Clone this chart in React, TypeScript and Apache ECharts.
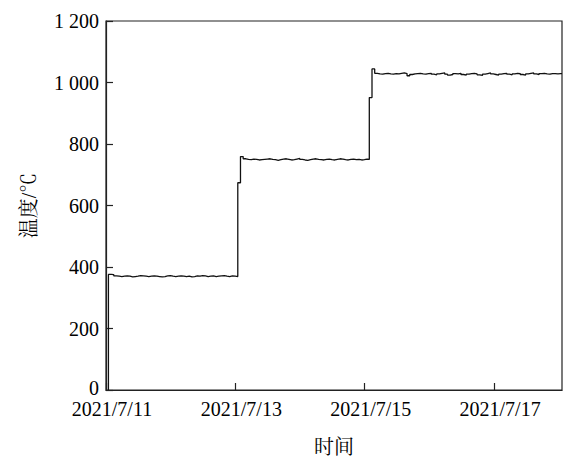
import React, { useEffect, useRef } from "react";
import * as echarts from "echarts";

// x values are hours since 2021/7/11 00:00
const xMin = 0;
const xMax = 169.2;
const xTickHours = [0, 48, 96, 144];
const xTickLabels = ["2021/7/11", "2021/7/13", "2021/7/15", "2021/7/17"];

const seg1Start = 0.9;
const seg1 = [376, 375, 371, 370, 369, 370, 371, 370, 368, 369, 370, 372, 371, 370, 369, 370, 371, 370, 369, 368, 369, 371, 372, 370, 369, 370, 371, 370, 369, 370, 368, 369, 371, 370, 372, 371, 369, 370, 371, 369, 370, 371, 372, 370, 369, 371, 370, 369];

const seg2Start = 48.9;
const seg2 = [674, 759, 752, 750, 749, 751, 750, 748, 749, 750, 751, 752, 750, 749, 747, 749, 751, 752, 750, 748, 749, 751, 753, 750, 748, 747, 749, 751, 752, 750, 749, 748, 750, 751, 749, 748, 750, 752, 751, 749, 748, 750, 751, 749, 750, 748, 749, 751, 750];

const seg3Start = 97.7;
const seg3 = [951, 1044, 1030, 1028, 1027, 1029, 1030, 1028, 1027, 1029, 1028, 1030, 1031, 1029, 1022, 1026, 1028, 1029, 1030, 1028, 1027, 1029, 1030, 1027, 1025, 1028, 1030, 1031, 1027, 1024, 1026, 1029, 1028, 1030, 1026, 1024, 1027, 1029, 1030, 1028, 1025, 1023, 1027, 1029, 1031, 1028, 1026, 1024, 1027, 1029, 1030, 1027, 1025, 1028, 1030, 1029, 1026, 1024, 1028, 1030, 1031, 1028, 1026, 1029, 1030, 1028, 1027, 1029, 1029, 1028, 1029, 1029];

const yTicks = [0, 200, 400, 600, 800, 1000, 1200];

const FONT = "'Liberation Serif', 'Times New Roman', 'Noto Serif CJK SC', 'Noto Sans CJK SC', serif";

function buildData(): number[][] {
  const d: number[][] = [[seg1Start, 0]];
  seg1.forEach((v, i) => d.push([seg1Start + i, v]));
  seg2.forEach((v, i) => d.push([seg2Start + i, v]));
  seg3.forEach((v, i) => d.push([seg3Start + i, v]));
  d.push([xMax, seg3[seg3.length - 1]]);
  return d;
}

export default function App() {
  const ref = useRef<HTMLDivElement>(null);
  useEffect(() => {
    if (!ref.current) return;
    const chart = echarts.init(ref.current, undefined, { renderer: "svg" });
    chart.setOption({
      animation: false,
      backgroundColor: "#fff",
      grid: {
        left: 106,
        right: 2,
        top: 21,
        bottom: 67,
        show: true,
        borderColor: "#222",
        borderWidth: 1.2,
        outerBoundsMode: "none",
        containLabel: false,
      },
      xAxis: {
        type: "value",
        min: xMin,
        max: xMax,
        interval: 48,
        name: "时间",
        nameLocation: "middle",
        nameGap: 47,
        nameTextStyle: { fontFamily: FONT, fontSize: 20, color: "#000" },
        axisLine: { show: true, lineStyle: { color: "#222", width: 1.2 } },
        axisTick: { show: true, inside: true, length: 7, lineStyle: { color: "#222", width: 1.2 } },
        splitLine: { show: false },
        axisLabel: {
          fontFamily: FONT,
          fontSize: 20,
          lineHeight: 18,
          color: "#000",
          margin: 10,
          padding: [0, 0, 0, 12],
          showMaxLabel: false,
          formatter: (v: number) => {
            const idx = xTickHours.indexOf(v);
            return idx >= 0 ? xTickLabels[idx] : "";
          },
        },
      },
      yAxis: {
        type: "value",
        min: 0,
        max: 1200,
        interval: 200,
        name: "温度/℃",
        nameLocation: "middle",
        nameGap: 67,
        nameTextStyle: { fontFamily: FONT, fontSize: 20, color: "#000" },
        axisLine: { show: true, lineStyle: { color: "#222", width: 1.2 } },
        axisTick: { show: true, inside: true, length: 7, lineStyle: { color: "#222", width: 1.2 } },
        splitLine: { show: false },
        axisLabel: {
          fontFamily: FONT,
          fontSize: 20,
          lineHeight: 15,
          color: "#000",
          margin: 7,
          rich: {
            z: { fontFamily: FONT, fontSize: 20, lineHeight: 15, color: "#000", padding: [0, 0, 5, 0] },
          },
          formatter: (v: number) => {
            if (yTicks.indexOf(v) < 0) return "";
            if (v === 0) return "{z|0}";
            const s = String(v);
            return s.length > 3 ? s.slice(0, s.length - 3) + " " + s.slice(-3) : s;
          },
        },
      },
      series: [
        {
          type: "line",
          step: "end",
          data: buildData(),
          showSymbol: false,
          lineStyle: { color: "#111", width: 1.3 },
        },
      ],
    });
    return () => chart.dispose();
  }, []);
  return (
    <div
      ref={ref}
      style={{ position: "fixed", left: 0, top: 0, width: 564, height: 457, background: "#fff" }}
    />
  );
}
